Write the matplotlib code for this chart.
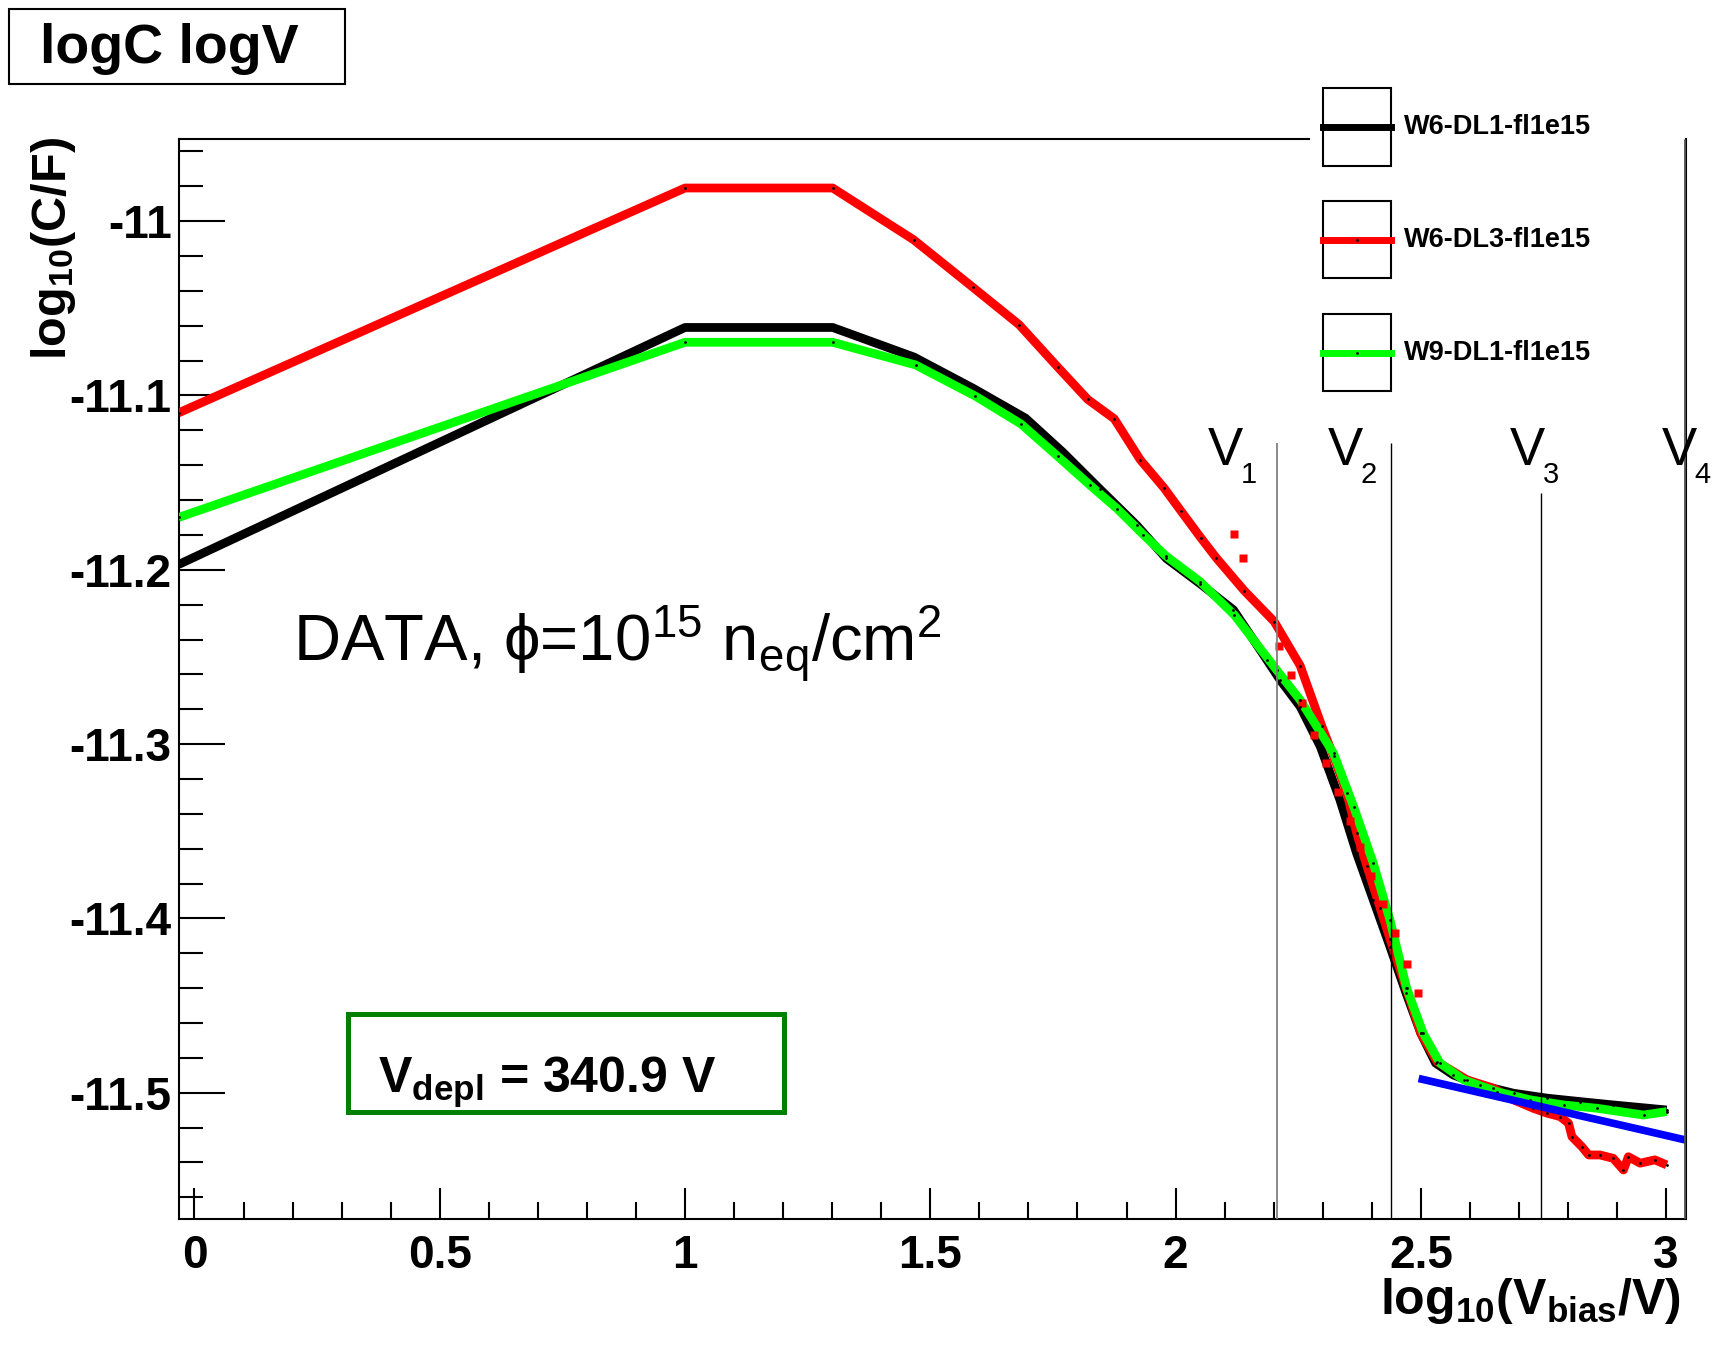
import matplotlib
matplotlib.use("Agg")
import matplotlib.pyplot as plt
from matplotlib.patches import Rectangle
from matplotlib.lines import Line2D
from matplotlib.ticker import MultipleLocator, FuncFormatter

plt.rcParams['font.family'] = ['Liberation Sans', 'DejaVu Sans']
plt.rcParams['axes.unicode_minus'] = False
plt.rcParams['mathtext.default'] = 'regular'

# log10(V) vs log10(C) for the three samples
black_x = [-0.0324, 1.0, 1.301, 1.467, 1.588, 1.694, 1.770, 1.845, 1.921, 1.981, 2.05, 2.118,
           2.186, 2.213, 2.254, 2.295, 2.335, 2.369, 2.403, 2.437, 2.47, 2.50, 2.53, 2.566,
           2.621, 2.689, 2.757, 2.825, 2.892, 3.001]
black_y = [-11.197, -11.061, -11.061, -11.078, -11.096, -11.113, -11.1325, -11.1535, -11.1745,
           -11.1935, -11.208, -11.223, -11.2517, -11.2632, -11.2785, -11.3014, -11.332, -11.3626,
           -11.3894, -11.4162, -11.443, -11.466, -11.483, -11.4898, -11.4956, -11.5003, -11.5031,
           -11.5051, -11.507, -11.5099]

red_x = [-0.0324, 1.0, 1.301, 1.466, 1.587, 1.681, 1.760, 1.821, 1.875, 1.928, 1.976, 2.011,
         2.051, 2.083, 2.14, 2.201, 2.254, 2.298, 2.322, 2.349, 2.369, 2.390, 2.417, 2.437, 2.47,
         2.50, 2.533, 2.594, 2.648, 2.689, 2.729, 2.757, 2.784, 2.801, 2.808, 2.828, 2.842, 2.865,
         2.892, 2.913, 2.923, 2.947, 2.977, 3.001]
red_y = [-11.110, -10.981, -10.981, -11.0107, -11.038, -11.0594, -11.0838, -11.1023, -11.1134,
         -11.1369, -11.1529, -11.1663, -11.1815, -11.1932, -11.212, -11.2297, -11.255, -11.2896,
         -11.307, -11.328, -11.351, -11.370, -11.394, -11.4117, -11.440, -11.466, -11.4822,
         -11.4926, -11.4974, -11.5041, -11.5089, -11.5117, -11.5137, -11.5175, -11.5252, -11.5309,
         -11.5357, -11.5357, -11.5376, -11.5443, -11.5367, -11.5404, -11.5385, -11.5414]

green_x = [-0.0324, 1.0, 1.301, 1.47, 1.592, 1.685, 1.760, 1.826, 1.881, 1.934, 1.98, 2.05,
           2.12, 2.206, 2.254, 2.322, 2.363, 2.403, 2.437, 2.471, 2.505, 2.539, 2.587, 2.655,
           2.723, 2.791, 2.859, 2.954, 3.001]
green_y = [-11.170, -11.0695, -11.0695, -11.0825, -11.1004, -11.1164, -11.135, -11.1516, -11.165,
           -11.1798, -11.192, -11.2068, -11.226, -11.2575, -11.2747, -11.3053, -11.3359, -11.3683,
           -11.4009, -11.440, -11.466, -11.483, -11.4926, -11.4994, -11.5041, -11.507, -11.5089,
           -11.5128, -11.5108]

# stray points of the DL3 curve
red_pts_x = [2.119, 2.138, 2.211, 2.235, 2.258, 2.283, 2.307, 2.331, 2.355, 2.375, 2.398, 2.422,
             2.447, 2.471, 2.495]
red_pts_y = [-11.1793, -11.1930, -11.2437, -11.2602, -11.2766, -11.2945, -11.3109, -11.3275,
             -11.3441, -11.3588, -11.3754, -11.3919, -11.4085, -11.4261, -11.4425]

# linear fit above depletion
fit_x = [2.503, 3.035]
fit_y = [-11.4923, -11.5268]

# V1..V4 markers
v_lines_x = [2.2065, 2.4386, 2.7455, 3.038]
v_lines_top = [-11.1275, -11.1275, -11.1558, -10.9529]
v_colors = ['#808080', 'black', 'black', '#505050']
v_widths = [1.3, 1.0, 1.0, 2.0]
v_names = ['1', '2', '3', '4']
v_label_x = [2.066, 2.311, 2.682, 2.991]
v_label_y = -11.140

legend_names = ['W6-DL1-fl1e15', 'W6-DL3-fl1e15', 'W9-DL1-fl1e15']
legend_colors = ['black', '#ff0000', '#00ff00']

xmin, xmax = -0.0324, 3.041
ymin, ymax = -11.5722, -10.9529

fig = plt.figure(figsize=(17.17, 13.51), dpi=100)
ax = fig.add_axes([0.1040, 0.0980, 0.8781, 0.7991])
ax.set_xlim(xmin, xmax)
ax.set_ylim(ymin, ymax)

ax.plot(black_x, black_y, color='black', lw=6.3, zorder=2, solid_capstyle='butt')
ax.plot(red_x, red_y, color='#ff0000', lw=6.3, zorder=3, solid_capstyle='butt')
ax.plot(green_x, green_y, color='#00ff00', lw=6.3, zorder=4, solid_capstyle='butt')
ax.plot(red_pts_x, red_pts_y, 's', color='#ff0000', ms=5.5, mec='none', zorder=5)
for xs, ys in [(black_x, black_y), (red_x, red_y), (green_x, green_y)]:
    ax.plot(xs, ys, '.', color='black', ms=2, zorder=5)
ax.plot(fit_x, fit_y, color='#0000ff', lw=5.5, zorder=6)

ax.vlines(v_lines_x, ymin, v_lines_top, colors=v_colors, linewidths=v_widths, zorder=7)
for vx, name in zip(v_label_x, v_names):
    ax.text(vx, v_label_y, 'V', fontsize=38, va='baseline', ha='left', zorder=8)
    ax.text(vx + 0.066, v_label_y - 0.010, name, fontsize=21, va='baseline', ha='left', zorder=8)

ax.text(0.200, -11.2531, r'DATA, $\phi$=10$^{15}$ n$_{eq}$/cm$^{2}$', fontsize=47,
        va='baseline', ha='left')

# V_depl box
ax.add_patch(Rectangle((0.1126, 0.0984), 0.289, 0.0913, transform=ax.transAxes,
                       fill=False, edgecolor='#008000', lw=3.6, zorder=8))
ax.text(0.1322, 0.1166, r'V$_{depl}$ = 340.9 V', transform=ax.transAxes, fontsize=36,
        fontweight='bold', va='baseline', ha='left', zorder=9)

# axes frame and ticks
for s in ax.spines.values():
    s.set_linewidth(1.5)
ax.spines['top'].set_bounds(xmin, 2.271)
ax.xaxis.set_major_locator(MultipleLocator(0.5))
ax.xaxis.set_minor_locator(MultipleLocator(0.1))
ax.yaxis.set_major_locator(MultipleLocator(0.1))
ax.yaxis.set_minor_locator(MultipleLocator(0.02))
fmt = FuncFormatter(lambda v, p: '{:g}'.format(round(v, 3)))
ax.xaxis.set_major_formatter(fmt)
ax.yaxis.set_major_formatter(fmt)
ax.tick_params(axis='x', which='major', direction='in', length=22, width=1.5, pad=11)
ax.tick_params(axis='x', which='minor', direction='in', length=12.5, width=1.5)
ax.tick_params(axis='y', which='major', direction='in', length=33, width=1.5, pad=5)
ax.tick_params(axis='y', which='minor', direction='in', length=17, width=1.5)
ax.tick_params(labelsize=33)
for lab in ax.get_xticklabels() + ax.get_yticklabels():
    lab.set_fontweight('bold')

fig.text(0.979, 0.0276, r'log$_{10}$(V$_{bias}$/V)', fontsize=36, fontweight='bold',
         ha='right', va='baseline')
fig.text(0.017, 0.8987, r'log$_{10}$(C/F)', fontsize=35, fontweight='bold',
         rotation=90, ha='left', va='top')

# title box
fig.add_artist(Rectangle((0.0051, 0.9376), 0.1958, 0.0559, transform=fig.transFigure,
                         fill=False, edgecolor='black', lw=1.5))
fig.text(0.0989, 0.9635, 'logC logV', fontsize=40, fontweight='bold', ha='center', va='center')

# legend
box_bottoms = [0.8768, 0.7942, 0.7107]
box_heights = [0.0583, 0.0567, 0.0567]
for name, col, b, h in zip(legend_names, legend_colors, box_bottoms, box_heights):
    fig.add_artist(Rectangle((0.7704, b), 0.0395, h, transform=fig.transFigure,
                             fill=False, edgecolor='black', lw=1.5))
    yc = b + h / 2
    fig.add_artist(Line2D([0.7704, 0.7901, 0.8099], [yc, yc, yc], transform=fig.transFigure,
                          color=col, lw=5, marker='.', ms=2, mfc='black', mec='black',
                          markevery=[1]))
    fig.text(0.8176, yc, name, fontsize=19.5, fontweight='bold', ha='left', va='center')

fig.savefig('out.png', dpi=100)
